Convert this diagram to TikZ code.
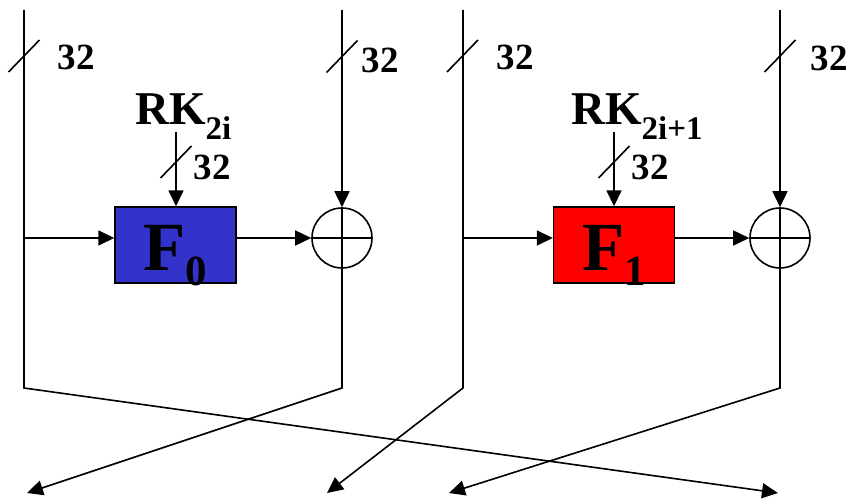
\documentclass[tikz,border=0pt]{standalone}
\usepackage{fontspec}
\setmainfont{Liberation Serif}
\usetikzlibrary{arrows.meta, positioning}

\definecolor{fblue}{RGB}{51,51,204}
\definecolor{fred}{RGB}{255,0,0}

\begin{document}
\begin{tikzpicture}[
  x=1pt, y=-1pt,
  wire/.style={line width=1.6pt},
  arrow/.style={wire, -{Triangle[length=16pt, width=15pt]}},
  fbox/.style={rectangle, draw, line width=1.4pt, minimum width=121pt, minimum height=76pt, inner sep=0pt},
  xor/.style={circle, draw, line width=1.6pt, minimum size=60pt, inner sep=0pt},
  bits/.style={font=\bfseries\fontsize{37}{37}\selectfont, inner sep=0pt},
  key/.style={font=\bfseries\fontsize{47}{47}\selectfont, inner sep=0pt, anchor=base west},
  fname/.style={font=\bfseries\fontsize{69}{69}\selectfont, inner sep=0pt, anchor=base},
  buswidth/.pic={\draw[wire] (-15.5,16) -- (15.5,-16);}
]
\useasboundingbox (0,0) rectangle (849,500);

% round functions and xors
\node[fbox, fill=fblue] (f0) at (175.5,245) {};
\node[fbox, fill=fred] (f1) at (614,245) {};
\node[fname] at (175.5,270) {F\raisebox{-15pt}{\fontsize{43}{43}\selectfont 0}};
\node[fname] at (614,270) {F\raisebox{-15pt}{\fontsize{43}{43}\selectfont 1}};
\node[xor] (x0) at (342,238) {};
\node[xor] (x1) at (780,238) {};
\draw[wire] (x0.north) -- (x0.south) (x0.west) -- (x0.east);
\draw[wire] (x1.north) -- (x1.south) (x1.west) -- (x1.east);

% round keys
\node[key] (rk0) at (135,125) {RK\raisebox{-15pt}{\fontsize{33}{33}\selectfont 2i}};
\node[key] (rk1) at (571,125) {RK\raisebox{-15pt}{\fontsize{33}{33}\selectfont 2i+1}};
\coordinate (k0) at (176,132);
\coordinate (k1) at (614,132);

% the four 32-bit words
\coordinate (a) at (24,10);
\coordinate (aj) at (24,238);
\coordinate (ab) at (24,388);
\coordinate (ae) at (778,493);
\coordinate (b) at (342,10);
\coordinate (bb) at (342,388);
\coordinate (be) at (27,493);
\coordinate (c) at (463,10);
\coordinate (cj) at (463,238);
\coordinate (cb) at (463,388);
\coordinate (ce) at (327,493);
\coordinate (d) at (780,10);
\coordinate (db) at (780,388);
\coordinate (de) at (449,493);

\draw[arrow] (a) -- (ab) -- (ae);
\draw[arrow] (aj) -- (aj -| f0.west);
\draw[arrow] (f0.east |- x0) -- (x0.west);
\draw[arrow] (k0) -- (k0 |- f0.north);
\draw[arrow] (b) -- (x0.north);
\draw[arrow] (x0.south) -- (bb) -- (be);

\draw[arrow] (c) -- (cb) -- (ce);
\draw[arrow] (cj) -- (cj -| f1.west);
\draw[arrow] (f1.east |- x1) -- (x1.west);
\draw[arrow] (k1) -- (k1 |- f1.north);
\draw[arrow] (d) -- (x1.north);
\draw[arrow] (x1.south) -- (db) -- (de);

% bus widths
\pic at (24,56) {buswidth};
\pic at (342,56.5) {buswidth};
\pic at (462.5,56) {buswidth};
\pic at (780,56) {buswidth};
\pic at (176,162) {buswidth};
\pic at (614,162) {buswidth};
\node[bits] at (76,57) {32};
\node[bits] at (380,60) {32};
\node[bits] at (515,57) {32};
\node[bits] at (829,58) {32};
\node[bits] at (212,167) {32};
\node[bits] at (650,167) {32};
\end{tikzpicture}
\end{document}
